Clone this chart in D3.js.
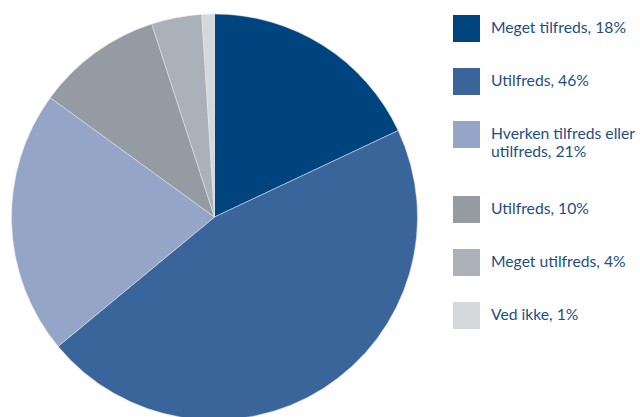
<!DOCTYPE html>
<html>
<head>
<meta charset="utf-8">
<script src="https://cdn.jsdelivr.net/npm/d3@7"></script>
<style>
    body { margin: 0; background: #fff; }
    .legend-label { font-family: Lato, "Open Sans", sans-serif; font-size: 15.7px; fill: #1d4d88; }
</style>
</head>
<body>
<div id="chart"></div>
<script>

// data
let categories = ["Meget tilfreds", "Utilfreds", "Hverken tilfreds eller utilfreds", "Utilfreds", "Meget utilfreds", "Ved ikke"];
let shares = [18, 46, 21, 10, 4, 1];
let legendLines = [
    ["Meget tilfreds, 18%"],
    ["Utilfreds, 46%"],
    ["Hverken tilfreds eller", "utilfreds, 21%"],
    ["Utilfreds, 10%"],
    ["Meget utilfreds, 4%"],
    ["Ved ikke, 1%"]
];
let sliceColors = ["#00447f", "#3a659b", "#95a5c7", "#949ba2", "#aab1b8", "#d4d8db"];

let width = 640, height = 417;

let svg = d3.select("#chart").append("svg")
    .attr("width", width)
    .attr("height", height);

let data = categories.map((c, i) => ({category: c, value: shares[i], color: sliceColors[i], lines: legendLines[i]}));

// pie
let pie = d3.pie()
    .value(d => d.value)
    .sort(null);

let arc = d3.arc()
    .innerRadius(0)
    .outerRadius(203);

let pieGroup = svg.append("g")
    .attr("transform", "translate(214.5, 217)");

pieGroup.selectAll(".slice")
    .data(pie(data))
    .enter()
    .append("path")
    .attr("class", "slice")
    .attr("d", arc)
    .attr("fill", d => d.data.color)
    .attr("stroke", "#e8ebef")
    .attr("stroke-width", 0.5);

// legend: rows are 53px apart, two-line entries take 22px more
let rowTop = [];
let y = 15;
data.forEach(d => {
    rowTop.push(y);
    y += 53 + 22 * (d.lines.length - 1);
});

let legend = svg.append("g")
    .attr("class", "legend")
    .selectAll(".legend-item")
    .data(data)
    .enter()
    .append("g")
    .attr("class", "legend-item")
    .attr("transform", (d, i) => `translate(453, ${rowTop[i]})`);

legend.append("rect")
    .attr("width", 27)
    .attr("height", 27)
    .attr("fill", d => d.color);

legend.append("text")
    .attr("class", "legend-label")
    .attr("x", 38)
    .attr("y", 18)
    .selectAll("tspan")
    .data(d => d.lines)
    .enter()
    .append("tspan")
    .attr("x", 38)
    .attr("dy", (d, i) => i === 0 ? 0 : 18)
    .text(d => d);

</script>
</body>
</html>
